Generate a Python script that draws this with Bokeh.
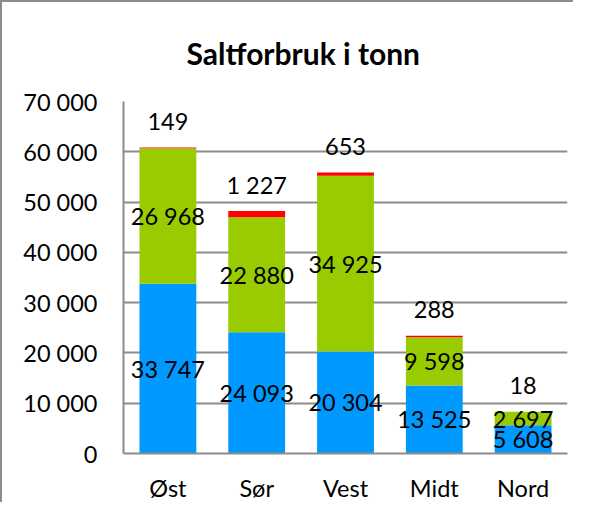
from bokeh.plotting import figure
from bokeh.models import ColumnDataSource, FactorRange, Range1d, FixedTicker, Title
from bokeh.core.properties import value
from bokeh.embed import file_html
from bokeh.resources import INLINE

# ---- data ----
categories = ["Øst", "Sør", "Vest", "Midt", "Nord"]
blue_vals = [33747, 24093, 20304, 13525, 5608]
green_vals = [26968, 22880, 34925, 9598, 2697]
red_vals = [149, 1227, 653, 288, 18]
y_ticks = [0, 10000, 20000, 30000, 40000, 50000, 60000, 70000]
y_tick_labels = ["0", "10 000", "20 000", "30 000", "40 000", "50 000", "60 000", "70 000"]
series = ["blue", "green", "red"]
colors = ["#0099FF", "#99CC00", "#FF0000"]


def fmt(v):
    return f"{v:,}".replace(",", " ")


FONT = "Lato"
GRID = "#8C8C8C"

src = ColumnDataSource(dict(cat=categories, blue=blue_vals, green=green_vals, red=red_vals))

p = figure(
    x_range=FactorRange(*categories, range_padding=0),
    y_range=Range1d(0, 70000),
    width=573, height=502,
    output_backend="svg", toolbar_location=None,
    min_border_left=121, min_border_right=8,
    min_border_top=97, min_border_bottom=48,
)
p.styles = {"border-left": f"2px solid {GRID}", "border-top": f"2px solid {GRID}"}

title = Title(text="Saltforbruk i tonn", text_font=FONT, text_font_size="30px",
              text_font_style="bold", text_color="black", align="left", offset=63,
              standoff=61)
p.add_layout(title, "above")
p.title.visible = False

p.vbar_stack(series, x="cat", width=0.64, color=colors, line_color=None, source=src)

# data labels
blue_mid = [b / 2 for b in blue_vals]
green_mid = [b + g / 2 for b, g in zip(blue_vals, green_vals)]
tops = [b + g + r for b, g, r in zip(blue_vals, green_vals, red_vals)]
lab = ColumnDataSource(dict(
    x=categories * 3,
    y=blue_mid + green_mid + tops,
    t=[fmt(v) for v in blue_vals + green_vals] + [fmt(v) for v in red_vals],
    off=[0] * 10 + [-26] * 5,
))
p.text(x="x", y="y", text="t", y_offset="off", source=lab, text_align="center",
       text_baseline="middle", text_font=value(FONT), text_font_size="23.5px",
       text_color="black")

# axes
p.yaxis.ticker = FixedTicker(ticks=y_ticks)
p.yaxis.major_label_overrides = {t: l for t, l in zip(y_ticks, y_tick_labels)}
for ax in (p.xaxis[0], p.yaxis[0]):
    ax.axis_line_color = GRID
    ax.axis_line_width = 2
    ax.major_tick_line_color = None
    ax.minor_tick_line_color = None
    ax.major_label_text_font = FONT
    ax.major_label_text_font_size = "23.5px"
    ax.major_label_text_color = "black"
p.yaxis.major_label_standoff = 20
p.xaxis.major_label_standoff = 14

p.xgrid.grid_line_color = None
p.ygrid.grid_line_color = GRID
p.ygrid.grid_line_width = 2
p.outline_line_color = None
p.background_fill_color = "white"
p.border_fill_color = "white"

open("out.html", "w").write(file_html(p, INLINE))
